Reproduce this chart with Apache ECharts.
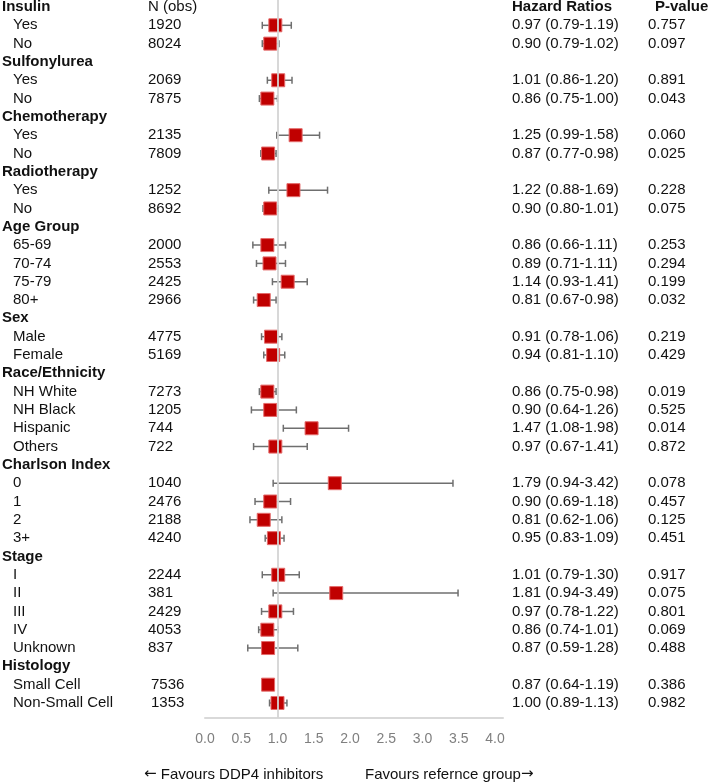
<!DOCTYPE html>
<html>
<head>
<meta charset="utf-8">
<script src="https://cdn.jsdelivr.net/npm/echarts@6/dist/echarts.min.js"></script>
<style>
html,body{margin:0;padding:0;background:#fff;}
#chart{width:709px;height:783px;}
</style>
</head>
<body>
<div id="chart"></div>
<script>
// ---- data ----
const labels = ['Insulin','Yes','No','Sulfonylurea','Yes','No','Chemotherapy','Yes','No','Radiotherapy','Yes','No','Age Group','65-69','70-74','75-79','80+','Sex','Male','Female','Race/Ethnicity','NH White','NH Black','Hispanic','Others','Charlson Index','0','1','2','3+','Stage','I','II','III','IV','Unknown','Histology','Small Cell','Non-Small Cell'];
const nObs = [null,1920,8024,null,2069,7875,null,2135,7809,null,1252,8692,null,2000,2553,2425,2966,null,4775,5169,null,7273,1205,744,722,null,1040,2476,2188,4240,null,2244,381,2429,4053,837,null,7536,1353];
const hr   = [null,0.97,0.90,null,1.01,0.86,null,1.25,0.87,null,1.22,0.90,null,0.86,0.89,1.14,0.81,null,0.91,0.94,null,0.86,0.90,1.47,0.97,null,1.79,0.90,0.81,0.95,null,1.01,1.81,0.97,0.86,0.87,null,0.87,1.00];
const ciLow  = [null,0.79,0.79,null,0.86,0.75,null,0.99,0.77,null,0.88,0.80,null,0.66,0.71,0.93,0.67,null,0.78,0.81,null,0.75,0.64,1.08,0.67,null,0.94,0.69,0.62,0.83,null,0.79,0.94,0.78,0.74,0.59,null,0.64,0.89];
const ciHigh = [null,1.19,1.02,null,1.20,1.00,null,1.58,0.98,null,1.69,1.01,null,1.11,1.11,1.41,0.98,null,1.06,1.10,null,0.98,1.26,1.98,1.41,null,3.42,1.18,1.06,1.09,null,1.30,3.49,1.22,1.01,1.28,null,1.19,1.13];
const pValues = [null,'0.757','0.097',null,'0.891','0.043',null,'0.060','0.025',null,'0.228','0.075',null,'0.253','0.294','0.199','0.032',null,'0.219','0.429',null,'0.019','0.525','0.014','0.872',null,'0.078','0.457','0.125','0.451',null,'0.917','0.075','0.801','0.069','0.488',null,'0.386','0.982'];
const rowsWithoutWhiskers = ['Small Cell']; // whiskers not drawn in the original picture
const columnHeaders = ['N (obs)','Hazard Ratios','P-value'];
const xTicks = [0,0.5,1,1.5,2,2.5,3,3.5,4];
const referenceValue = 1;
const footerNotes = ['Favours DDP4 inhibitors','Favours refernce group'];

// ---- chart ----
const FONT = '"Liberation Sans", Arial, Helvetica, sans-serif';
const chart = echarts.init(document.getElementById('chart'), null, {renderer:'canvas'});
const rows = labels.map((l,i)=>i);

const tableSeries = {
  type:'custom', z:1, silent:true, clip:false,
  data: rows.map(i=>[0,i]),
  renderItem:function(params, api){
    const i = api.value(1);
    const y = api.coord([0,i])[1];
    const header = nObs[i] === null;
    const ch = [];
    ch.push({type:'text', style:{x: header?2:13, y:y, text:labels[i], fill:'#111', font:(header?'bold ':'')+'15px '+FONT, verticalAlign:'middle'}});
    if(!header){
      ch.push({type:'text', style:{x: (i>=37?151:148), y:y, text:String(nObs[i]), fill:'#111', font:'15px '+FONT, verticalAlign:'middle'}});
      ch.push({type:'text', style:{x:512, y:y, text:hr[i].toFixed(2)+' ('+ciLow[i].toFixed(2)+'-'+ciHigh[i].toFixed(2)+')', fill:'#111', font:'15px '+FONT, verticalAlign:'middle'}});
      ch.push({type:'text', style:{x:648, y:y, text:pValues[i], fill:'#111', font:'15px '+FONT, verticalAlign:'middle'}});
    }
    if(i===0){
      ch.push({type:'text', style:{x:148, y:y, text:columnHeaders[0], fill:'#111', font:'15px '+FONT, verticalAlign:'middle'}});
      ch.push({type:'text', style:{x:512, y:y, text:columnHeaders[1], fill:'#111', font:'bold 15px '+FONT, verticalAlign:'middle'}});
      ch.push({type:'text', style:{x:655, y:y, text:columnHeaders[2], fill:'#111', font:'bold 15px '+FONT, verticalAlign:'middle'}});
    }
    return {type:'group', children:ch};
  }
};

const whiskerSeries = {
  type:'custom', z:2, silent:true,
  data: rows.filter(i=>hr[i]!==null && rowsWithoutWhiskers.indexOf(labels[i])<0).map(i=>[ciLow[i],ciHigh[i],i]),
  renderItem:function(params, api){
    const a = api.coord([api.value(0), api.value(2)]);
    const b = api.coord([api.value(1), api.value(2)]);
    const h = 3.5;
    const st = {stroke:'#6f6f6f', lineWidth:1.5};
    return {type:'group', children:[
      {type:'line', shape:{x1:a[0],y1:a[1],x2:b[0],y2:b[1]}, style:st},
      {type:'line', shape:{x1:a[0],y1:a[1]-h,x2:a[0],y2:a[1]+h}, style:st},
      {type:'line', shape:{x1:b[0],y1:b[1]-h,x2:b[0],y2:b[1]+h}, style:st}
    ]};
  }
};

const squareSeries = {
  type:'scatter', z:3, silent:true,
  symbol:'rect', symbolSize:13,
  itemStyle:{color:'#C00000', borderColor:'#E46A6A', borderWidth:1, opacity:1},
  data: rows.filter(i=>hr[i]!==null).map(i=>[hr[i], i])
};

const refSeries = {
  type:'scatter', z:4, silent:true, data:[],
  markLine:{silent:true, symbol:['none','none'], label:{show:false},
    lineStyle:{color:'#d4d4d4', width:2, type:'solid', opacity:0.9},
    emphasis:{disabled:true},
    data:[{xAxis:referenceValue}]}
};

const footRich = {
  a:{fontFamily:'"DejaVu Sans", sans-serif', fontSize:15, fill:'#111', color:'#111'},
  t:{fontFamily:FONT, fontSize:15, fill:'#111', color:'#111'}
};

chart.setOption({
  animation:false,
  backgroundColor:'#fff',
  grid:{left:205, top:0, width:298, height:718, containLabel:false},
  xAxis:{type:'value', position:'bottom', min:xTicks[0], max:4.11, interval:0.5,
    axisLine:{show:true, onZero:false, lineStyle:{color:'#d9d9d9', width:2}},
    axisTick:{show:false}, splitLine:{show:false},
    axisLabel:{showMaxLabel:false, color:'#7f7f7f', fontSize:14, fontFamily:FONT, margin:14,
      formatter:v=> xTicks.indexOf(v)>=0 ? v.toFixed(1) : ''}},
  yAxis:{type:'value', inverse:true, min:-0.382, max:38.82, show:false},
  graphic:[
    {type:'text', left:144, top:767, style:{text:'{a|\u2190}{t| '+footerNotes[0]+'}', rich:footRich}},
    {type:'text', left:365, top:767, style:{text:'{t|'+footerNotes[1]+'}{a|\u2192}', rich:footRich}}
  ],
  series:[tableSeries, whiskerSeries, squareSeries, refSeries]
});
</script>
</body>
</html>
